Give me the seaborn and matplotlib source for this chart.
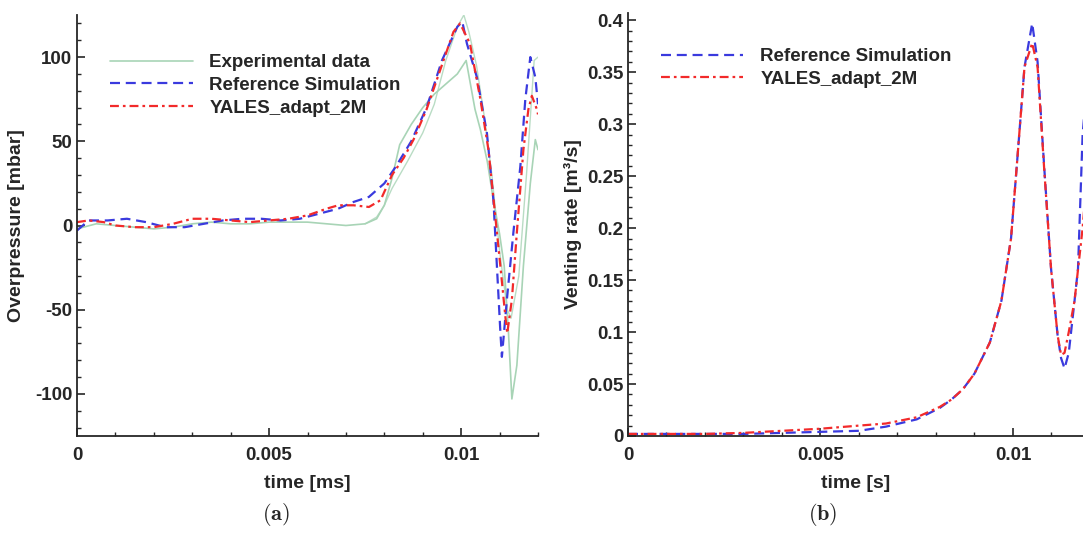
import matplotlib
matplotlib.use("Agg")
import matplotlib.pyplot as plt
import seaborn as sns
from matplotlib.ticker import MultipleLocator

# ---- dados: painel (a) sobrepressao ----
t_exp1 = [0, 0.0005, 0.001, 0.0015, 0.002, 0.0025, 0.003, 0.0035, 0.004, 0.0045,
          0.005, 0.0055, 0.006, 0.0065, 0.007, 0.0075, 0.0078, 0.008, 0.0082, 0.0084,
          0.0087, 0.009, 0.0093, 0.0096, 0.0099, 0.01013, 0.01036, 0.0105, 0.01068,
          0.01084, 0.0110, 0.01112, 0.01123, 0.01132, 0.01145, 0.01162, 0.0118,
          0.01193, 0.012]
p_exp1 = [-2, 1, 0, -1, -2, -1, 1, 2, 1, 1,
          2, 2, 2, 1, 0, 1, 4, 12, 28, 48,
          60, 70, 78, 84, 90, 98, 69, 57, 38,
          15, -5, -24, -63, -103, -83, -24, 25,
          51, 45]

t_exp2 = [0.0075, 0.0078, 0.008, 0.0082, 0.0086, 0.009, 0.0093, 0.0096, 0.0099,
          0.01007, 0.0102, 0.0104, 0.0106, 0.0108, 0.011, 0.0112, 0.0113, 0.0115,
          0.0117, 0.0119, 0.012]
p_exp2 = [1, 5, 12, 22, 38, 55, 72, 98, 118,
          125, 115, 95, 65, 30, -15, -50, -55, -30,
          30, 98, 100]

t_ref_a = [0, 0.0003, 0.0008, 0.0013, 0.0018, 0.0023, 0.0028, 0.0033, 0.0038, 0.0043,
           0.0048, 0.0053, 0.0058, 0.0063, 0.0068, 0.0072, 0.0076, 0.008, 0.0083,
           0.0087, 0.0091, 0.0095, 0.0099, 0.01003, 0.01015, 0.01041, 0.01067,
           0.01084, 0.01093, 0.01102, 0.01106, 0.01119, 0.01136, 0.01154, 0.01167,
           0.0118, 0.01193, 0.012]
p_ref_a = [-3, 3, 3, 4, 2, -1, -1, 1, 3, 4,
           4, 3, 4, 7, 10, 14, 17, 25, 35,
           50, 70, 98, 118, 121, 108, 88, 55,
           15, -24, -63, -78, -44, -4, 35, 75,
           100, 88, 72]

t_yal_a = [0, 0.0003, 0.0007, 0.001, 0.0015, 0.002, 0.0025, 0.003, 0.0035, 0.004,
           0.0045, 0.005, 0.0055, 0.006, 0.0065, 0.0068, 0.0072, 0.0076, 0.0079,
           0.0082, 0.0085, 0.00876, 0.0091, 0.00954, 0.0098, 0.00997, 0.01023,
           0.0105, 0.01071, 0.01089, 0.01102, 0.01115, 0.0112, 0.01132, 0.01145,
           0.01162, 0.01175, 0.01184, 0.01197, 0.012]
p_yal_a = [2, 3, 2, 0, -1, -1, 1, 4, 4, 3,
           2, 3, 4, 6, 10, 12, 12, 11, 15,
           30, 40, 51, 69, 98, 115, 120, 108,
           75, 45, 5, -24, -54, -64, -44, -4,
           45, 69, 77, 69, 66]

# ---- dados: painel (b) taxa de ventilacao ----
t_b = [0, 0.001, 0.002, 0.003, 0.004, 0.005, 0.006, 0.0067, 0.0075, 0.0081,
       0.0084, 0.0087, 0.009, 0.0094, 0.0097, 0.00995, 0.0101, 0.0103, 0.0105,
       0.01064, 0.01081, 0.01099, 0.01116, 0.01125, 0.01134, 0.01145, 0.0116,
       0.01169, 0.01181, 0.0119]
q_ref_b = [0.002, 0.002, 0.002, 0.002, 0.003, 0.004, 0.005, 0.009, 0.016, 0.027,
           0.035, 0.045, 0.06, 0.09, 0.13, 0.19, 0.26, 0.355, 0.397,
           0.36, 0.26, 0.161, 0.097, 0.075, 0.065, 0.08, 0.13,
           0.161, 0.29, 0.33]
q_yal_b = [0.002, 0.002, 0.002, 0.003, 0.005, 0.007, 0.010, 0.012, 0.018, 0.028,
           0.035, 0.045, 0.06, 0.09, 0.13, 0.19, 0.26, 0.355, 0.378,
           0.355, 0.258, 0.161, 0.097, 0.078, 0.08, 0.1, 0.13,
           0.16, 0.2, 0.24]

xticks = [0, 0.005, 0.01]
xtick_labels = ["0", "0.005", "0.01"]
yticks_a = [-100, -50, 0, 50, 100]
yticks_b = [0, 0.05, 0.1, 0.15, 0.2, 0.25, 0.3, 0.35, 0.4]
ytick_labels_b = ["0", "0.05", "0.1", "0.15", "0.2", "0.25", "0.3", "0.35", "0.4"]

sns.set_style("ticks")
plt.rcParams['font.family'] = ['Liberation Sans', 'DejaVu Sans']
plt.rcParams['font.weight'] = 'bold'
plt.rcParams['mathtext.fontset'] = 'cm'
plt.rcParams['axes.unicode_minus'] = False

verde = "#a8d4b6"
azul = "#3a3ade"
vermelho = "#f22a2a"
tracejado = (0, (4.5, 2.6))
traco_ponto = (0, (4, 1.8, 1.2, 1.8))

fig = plt.figure(figsize=(10.83, 5.33), dpi=100)
W, H = 1083, 533
ax1 = fig.add_axes([77 / W, 1 - 436 / H, 461 / W, 421 / H])
ax2 = fig.add_axes([628 / W, 1 - 436 / H, 455 / W, 423 / H])

sns.lineplot(x=t_exp1, y=p_exp1, ax=ax1, color=verde, lw=1.2, estimator=None,
             sort=False, label="Experimental data")
sns.lineplot(x=t_exp2, y=p_exp2, ax=ax1, color=verde, lw=1.0, alpha=0.8,
             estimator=None, sort=False)
sns.lineplot(x=t_ref_a, y=p_ref_a, ax=ax1, color=azul, lw=1.6, linestyle=tracejado,
             estimator=None, sort=False, label="Reference Simulation")
sns.lineplot(x=t_yal_a, y=p_yal_a, ax=ax1, color=vermelho, lw=1.6,
             linestyle=traco_ponto, estimator=None, sort=False,
             label="YALES_adapt_2M")

sns.lineplot(x=t_b, y=q_ref_b, ax=ax2, color=azul, lw=1.6, linestyle=tracejado,
             estimator=None, sort=False, label="Reference Simulation")
sns.lineplot(x=t_b, y=q_yal_b, ax=ax2, color=vermelho, lw=1.6,
             linestyle=traco_ponto, estimator=None, sort=False,
             label="YALES_adapt_2M")

ax1.set_xlim(0, 0.012)
ax1.set_ylim(-125, 125)
ax2.set_xlim(0, 0.01182)
ax2.set_ylim(0, 0.407)

for ax in (ax1, ax2):
    sns.despine(ax=ax)
    ax.spines['left'].set_linewidth(1.3)
    ax.spines['bottom'].set_linewidth(1.3)
    ax.set_xticks(xticks)
    ax.set_xticklabels(xtick_labels)
    ax.xaxis.set_minor_locator(MultipleLocator(0.001))
    ax.tick_params(which='major', direction='in', length=6, width=1.2,
                   labelsize=13.5)
    ax.tick_params(which='minor', direction='in', length=3, width=1.0)
    ax.tick_params(axis='x', which='major', pad=8)
    ax.tick_params(axis='y', which='major', pad=3.5)
    ax.set_xlabel("time [ms]" if ax is ax1 else "time [s]", fontsize=14,
                  fontweight='bold')
    ax.xaxis.set_label_coords(0.5, -0.093)

ax1.set_yticks(yticks_a)
ax1.yaxis.set_minor_locator(MultipleLocator(10))
ax2.set_yticks(yticks_b)
ax2.set_yticklabels(ytick_labels_b)
ax2.yaxis.set_minor_locator(MultipleLocator(0.01))

ax1.set_ylabel("Overpressure [mbar]", fontsize=14, fontweight='bold')
ax1.yaxis.set_label_coords(-0.112, 0.5)
ax2.set_ylabel("Venting rate [m³/s]", fontsize=14, fontweight='bold')
ax2.yaxis.set_label_coords(-0.1, 0.5)

ax1.legend(loc='upper left', bbox_to_anchor=(110 / W, 1 - 54 / H),
           bbox_transform=fig.transFigure, frameon=False, fontsize=13.5,
           handlelength=4.4, handletextpad=0.9, labelspacing=0.3,
           borderpad=0, borderaxespad=0)
ax2.legend(loc='upper left', bbox_to_anchor=(661 / W, 1 - 48 / H),
           bbox_transform=fig.transFigure, frameon=False, fontsize=13.5,
           handlelength=4.4, handletextpad=0.9, labelspacing=0.3,
           borderpad=0, borderaxespad=0)

fig.text(276 / W, 1 - 514 / H, r"$\mathbf{(a)}$", ha='center', va='center',
         fontsize=16)
fig.text(823 / W, 1 - 514 / H, r"$\mathbf{(b)}$", ha='center', va='center',
         fontsize=16)

fig.savefig("out.png", dpi=100)
